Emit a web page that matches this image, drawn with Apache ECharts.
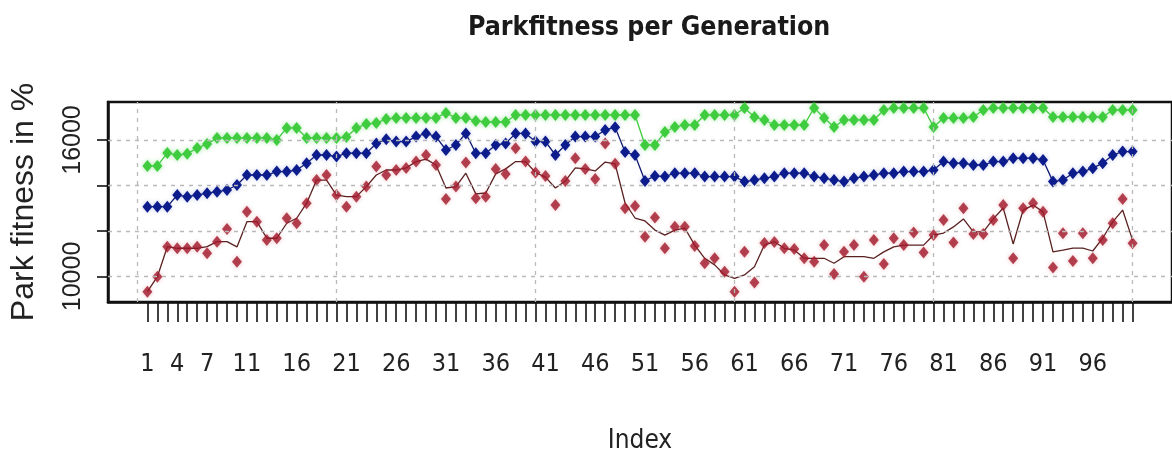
<!DOCTYPE html>
<html>
<head>
<meta charset="utf-8">
<script src="https://cdn.jsdelivr.net/npm/echarts@6/dist/echarts.min.js"></script>
<style>
  html, body { margin: 0; padding: 0; background: #ffffff; overflow: hidden; }
  #chart { width: 1172px; height: 464px; }
</style>
</head>
<body>
<div id="chart"></div>
<script>
// Park fitness per generation, generations 1..100
const bestFitness = [
  14860, 14860, 15430, 15340, 15390, 15650, 15820, 16090, 16090, 16090,
  16090, 16090, 16090, 16000, 16530, 16530, 16090, 16090, 16090, 16090,
  16130, 16530, 16700, 16750, 16920, 16970, 16970, 16970, 16970, 16970,
  17190, 16970, 16970, 16840, 16790, 16790, 16790, 17100, 17100, 17100,
  17100, 17100, 17100, 17100, 17100, 17100, 17100, 17100, 17100, 17100,
  15780, 15780, 16350, 16570, 16660, 16660, 17100, 17100, 17100, 17100,
  17410, 17010, 16880, 16660, 16660, 16660, 16660, 17410, 16970, 16570,
  16880, 16880, 16880, 16880, 17320, 17410, 17410, 17410, 17410, 16570,
  16970, 16970, 16970, 17010, 17320, 17410, 17410, 17410, 17410, 17410,
  17410, 17010, 17010, 17010, 17010, 17010, 17010, 17320, 17320, 17320
];
const meanFitness = [
  13070, 13070, 13070, 13580, 13510, 13580, 13660, 13730, 13800, 14020,
  14460, 14460, 14460, 14610, 14610, 14680, 14980, 15340, 15340, 15270,
  15420, 15420, 15420, 15850, 16030, 15930, 15930, 16150, 16290, 16150,
  15560, 15780, 16290, 15420, 15420, 15780, 15850, 16290, 16290, 15930,
  15930, 15340, 15780, 16150, 16150, 16150, 16440, 16560, 15470, 15340,
  14200, 14420, 14390, 14540, 14540, 14540, 14390, 14390, 14390, 14390,
  14170, 14240, 14320, 14390, 14540, 14540, 14540, 14390, 14320, 14240,
  14170, 14320, 14390, 14460, 14540, 14540, 14610, 14610, 14610, 14680,
  15050, 14980, 14980, 14900, 14900, 15050, 15050, 15200, 15200, 15200,
  15120, 14170, 14240, 14540, 14610, 14760, 14980, 15340, 15490, 15490
];
const worstFitness = [
   9330,  9990, 11310, 11240, 11240, 11310, 11020, 11530, 12090, 10650,
  12850, 12410, 11600, 11680, 12560, 12340, 13220, 14240, 14460, 13580,
  13070, 13510, 13950, 14830, 14460, 14680, 14770, 15050, 15340, 14900,
  13410, 13950, 15010, 13440, 13510, 14730, 14510, 15640, 15050, 14570,
  14420, 13140, 14200, 15200, 14730, 14290, 15850, 14950, 13000, 13100,
  11750, 12590, 11240, 12190, 12190, 11340, 10580, 10800, 10210,  9330,
  11090,  9740, 11470, 11520, 11240, 11210, 10800, 10650, 11380, 10110,
  11090, 11380,  9990, 11600, 10550, 11680, 11380, 11930, 11050, 11820,
  12480, 11490, 13000, 11870, 11870, 12480, 13140, 10800, 13000, 13220,
  12850, 10400, 11900, 10680, 11900, 10800, 11600, 12340, 13410, 11460
];
// smoothed trend drawn through the worst-fitness points
const worstTrend = [
   9330,  9990, 11310, 11240, 11240, 11240, 11310, 11530, 11530, 11300,
  12410, 12410, 11680, 11680, 12340, 12560, 13220, 14240, 14240, 13580,
  13510, 13510, 13950, 14460, 14680, 14680, 14770, 15050, 15160, 14900,
  13890, 13950, 14540, 13630, 13670, 14510, 14730, 15050, 15050, 14570,
  14370, 13890, 14200, 14770, 14730, 14640, 15030, 14950, 13230, 12570,
  12440, 12040, 11820, 12040, 12130, 11380, 10800, 10510, 10070,  9920,
  10070, 10430, 11380, 11530, 11240, 11160, 10800, 10800, 10800, 10580,
  10870, 10870, 10870, 10800, 11080, 11300, 11380, 11380, 11380, 11820,
  11910, 12180, 12530, 11960, 11960, 12530, 13010, 11430, 12920, 13140,
  12840, 11080, 11160, 11250, 11250, 11120, 11690, 12400, 12920, 11600
];

const xLabelValues = [1, 4, 7, 11, 16, 21, 26, 31, 36, 41, 46, 51, 56, 61, 66, 71, 76, 81, 86, 91, 96];
const yTickValues = [10000, 12000, 14000, 16000];
const yLabelValues = [10000, 16000];
const xGridValues = [0, 20, 40, 60, 80, 100];

const indexValues = bestFitness.map((_, i) => i + 1);
const pairs = arr => arr.map((v, i) => [i + 1, v]);

const narrow = '"Liberation Sans Narrow", "DejaVu Sans Condensed", "Liberation Sans", sans-serif';
const regular = '"Liberation Sans", Arial, sans-serif';

const gridLineStyle = { color: '#b9b9b9', type: [4, 5], width: 1.3 };

function pointSeries(name, data, color, glow, withLine, lineColor) {
  return {
    name: name,
    type: withLine ? 'line' : 'scatter',
    data: pairs(data),
    symbol: 'diamond',
    symbolSize: [10, 12],
    z: 3,
    itemStyle: { color: color, shadowBlur: 4, shadowColor: glow },
    lineStyle: withLine ? { color: lineColor || color, width: 1.3 } : undefined,
    emphasis: { disabled: true },
    animation: false
  };
}

const chart = echarts.init(document.getElementById('chart'), null, { renderer: 'canvas' });
chart.setOption({
  animation: false,
  backgroundColor: '#ffffff',
  title: {
    text: 'Parkfitness per Generation',
    left: 463,
    top: 10,
    textStyle: { fontFamily: narrow, fontWeight: 'bold', fontSize: 26.5, color: '#1a1a1a' }
  },
  grid: {
    left: 104, top: 102, width: 1072, height: 200,
    show: true, borderColor: '#111111', borderWidth: 2.5, backgroundColor: 'transparent'
  },
  xAxis: {
    type: 'value',
    min: -2.96,
    max: 103.96,
    name: 'Index',
    nameLocation: 'middle',
    nameGap: 126,
    nameTextStyle: { fontFamily: narrow, fontSize: 26, color: '#222' },
    axisLine: { show: true, onZero: false, lineStyle: { color: '#111', width: 2.5 } },
    axisTick: { show: true, customValues: indexValues, length: 20, lineStyle: { color: '#111', width: 1.6 } },
    axisLabel: { customValues: xLabelValues, margin: 50, fontFamily: narrow, fontSize: 25, color: '#222' },
    splitLine: { show: false }
  },
  yAxis: {
    type: 'value',
    min: 8878,
    max: 17670,
    name: 'Park fitness in %',
    nameLocation: 'middle',
    nameGap: 68,
    nameRotate: 90,
    nameTextStyle: { fontFamily: regular, fontSize: 32, color: '#222' },
    axisLine: { show: true, onZero: false, lineStyle: { color: '#111', width: 2.5 } },
    axisTick: { show: true, customValues: yTickValues, length: 11, lineStyle: { color: '#111', width: 1.6 } },
    axisLabel: {
      customValues: yLabelValues, rotate: 90, margin: 22,
      formatter: v => String(v),
      fontFamily: regular, fontSize: 25, color: '#222'
    },
    splitLine: { show: false }
  },
  series: [
    {
      name: 'grid',
      type: 'line',
      data: [],
      z: 1,
      silent: true,
      markLine: {
        silent: true,
        symbol: ['none', 'none'],
        label: { show: false },
        lineStyle: gridLineStyle,
        animation: false,
        data: xGridValues.map(v => ({ xAxis: v })).concat(yTickValues.map(v => ({ yAxis: v })))
      }
    },
    pointSeries('best', bestFitness, '#3fcc3f', 'rgba(80,215,80,0.55)', true),
    pointSeries('mean', meanFitness, '#0c1c8c', 'rgba(60,80,190,0.3)', true, '#101a70'),
    {
      name: 'trend',
      type: 'line',
      data: pairs(worstTrend),
      showSymbol: false,
      symbol: 'none',
      z: 2,
      lineStyle: { color: '#5a2020', width: 1.3 },
      emphasis: { disabled: true }
    },
    pointSeries('worst', worstFitness, '#a0182a', 'rgba(210,60,70,0.4)', false)
  ]
});
</script>
</body>
</html>
